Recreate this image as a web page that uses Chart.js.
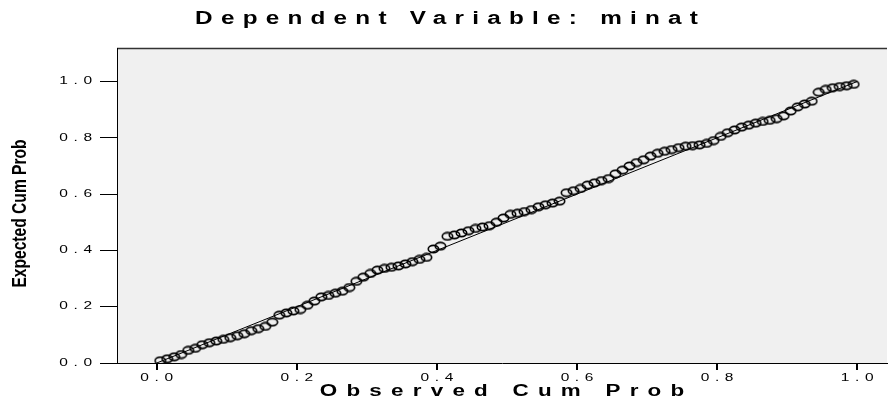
<!DOCTYPE html>
<html>
<head>
<meta charset="utf-8">
<script src="https://cdn.jsdelivr.net/npm/chart.js@4/dist/chart.umd.min.js"></script>
<style>
  html, body { margin: 0; padding: 0; background: #ffffff; }
  #c { display: block; }
</style>
</head>
<body>
<canvas id="c" width="893" height="405"></canvas>
<script>
// ---- data ----
const chartTitle = 'Dependent Variable: minat';
const xAxisTitle = 'Observed Cum Prob';
const yAxisTitle = 'Expected Cum Prob';
const xTicks = [0.0, 0.2, 0.4, 0.6, 0.8, 1.0];
const yTicks = [0.0, 0.2, 0.4, 0.6, 0.8, 1.0];
const observed = [
  0.005, 0.015, 0.025, 0.035, 0.045, 0.055, 0.065, 0.075, 0.085, 0.095,
  0.105, 0.115, 0.125, 0.135, 0.145, 0.155, 0.165, 0.175, 0.185, 0.195,
  0.205, 0.215, 0.225, 0.235, 0.245, 0.255, 0.265, 0.275, 0.285, 0.295,
  0.305, 0.315, 0.325, 0.335, 0.345, 0.355, 0.365, 0.375, 0.385, 0.395,
  0.405, 0.415, 0.425, 0.435, 0.445, 0.455, 0.465, 0.475, 0.485, 0.495,
  0.505, 0.515, 0.525, 0.535, 0.545, 0.555, 0.565, 0.575, 0.585, 0.595,
  0.605, 0.615, 0.625, 0.635, 0.645, 0.655, 0.665, 0.675, 0.685, 0.695,
  0.705, 0.715, 0.725, 0.735, 0.745, 0.755, 0.765, 0.775, 0.785, 0.795,
  0.805, 0.815, 0.825, 0.835, 0.845, 0.855, 0.865, 0.875, 0.885, 0.895,
  0.905, 0.915, 0.925, 0.935, 0.945, 0.955, 0.965, 0.975, 0.985, 0.995
];
const expected = [
  0.008, 0.015, 0.022, 0.030, 0.045, 0.052, 0.065, 0.072, 0.078, 0.084,
  0.090, 0.097, 0.104, 0.115, 0.122, 0.130, 0.145, 0.170, 0.178, 0.185,
  0.190, 0.205, 0.220, 0.235, 0.240, 0.248, 0.255, 0.268, 0.290, 0.305,
  0.318, 0.330, 0.336, 0.340, 0.345, 0.352, 0.360, 0.368, 0.375, 0.405,
  0.415, 0.450, 0.455, 0.462, 0.470, 0.478, 0.483, 0.488, 0.500, 0.515,
  0.528, 0.532, 0.538, 0.545, 0.555, 0.562, 0.568, 0.575, 0.605, 0.612,
  0.620, 0.632, 0.640, 0.648, 0.655, 0.672, 0.685, 0.700, 0.712, 0.722,
  0.735, 0.745, 0.752, 0.758, 0.765, 0.770, 0.772, 0.775, 0.780, 0.790,
  0.805, 0.818, 0.828, 0.838, 0.845, 0.852, 0.858, 0.862, 0.868, 0.878,
  0.895, 0.910, 0.920, 0.930, 0.962, 0.972, 0.978, 0.982, 0.985, 0.990
];
const refLineX = [0, 1];
const refLineY = [0, 1];

// ---- stretched-looking text (keyed by font size) ----
const TEXT_STYLE = {
  10: { sx: 1.55, ls: 3.6, dx: 0 },
  18: { sx: 1.35, ls: 6.1, dx: 0 },
  16: { sx: 1.4,  ls: 6.6, dx: 0 },
  20: { sx: 0.78, ls: 0,   dx: -8 }
};
const canvas = document.getElementById('c');
const ctx = canvas.getContext('2d');
const origFillText = ctx.fillText.bind(ctx);
ctx.fillText = function (t, x, y, maxW) {
  const mm = /(\d+(?:\.\d+)?)px/.exec(ctx.font);
  const st = mm ? TEXT_STYLE[parseFloat(mm[1])] : null;
  if (!st) {
    return maxW === undefined ? origFillText(t, x, y) : origFillText(t, x, y, maxW);
  }
  ctx.save();
  try { ctx.letterSpacing = st.ls + 'px'; } catch (e) {}
  ctx.translate(x + st.dx, y);
  ctx.scale(st.sx, 1);
  let dx = 0;
  if (ctx.textAlign === 'center') dx = st.ls / 2;
  else if (ctx.textAlign === 'right' || ctx.textAlign === 'end') dx = st.ls;
  origFillText(t, dx, 0);
  ctx.restore();
};

// ---- hollow elliptical marker ----
function makeMarker() {
  const c = document.createElement('canvas');
  c.width = 13; c.height = 10;
  const g = c.getContext('2d');
  g.strokeStyle = '#000';
  g.lineWidth = 1.6;
  g.beginPath();
  g.ellipse(6.5, 5, 5.2, 3.6, 0, 0, Math.PI * 2);
  g.stroke();
  return c;
}
const marker = makeMarker();

const bgPlugin = {
  id: 'bgPlugin',
  beforeDraw(chart) {
    const c = chart.ctx, a = chart.chartArea;
    c.save();
    c.fillStyle = '#ffffff';
    c.fillRect(0, 0, chart.width, chart.height);
    c.fillStyle = '#f0f0f0';
    c.fillRect(a.left, a.top, a.right - a.left, a.bottom - a.top);
    c.strokeStyle = '#333333';
    c.lineWidth = 1.5;
    c.beginPath();
    c.moveTo(a.left, a.top + 0.5);
    c.lineTo(a.right, a.top + 0.5);
    c.stroke();
    c.restore();
  }
};

const points = observed.map((v, i) => ({ x: v, y: expected[i] }));
const linePts = refLineX.map((v, i) => ({ x: v, y: refLineY[i] }));

new Chart(ctx, {
  type: 'scatter',
  data: {
    datasets: [
      {
        type: 'line',
        data: linePts,
        borderColor: '#000',
        borderWidth: 1,
        pointRadius: 0,
        fill: false,
        order: 2
      },
      {
        type: 'scatter',
        data: points,
        pointStyle: marker,
        pointRadius: 5,
        order: 1
      }
    ]
  },
  plugins: [bgPlugin],
  options: {
    responsive: false,
    animation: false,
    devicePixelRatio: 1,
    layout: { padding: 0 },
    plugins: {
      legend: { display: false },
      tooltip: { enabled: false },
      title: {
        display: true,
        text: chartTitle,
        color: '#000',
        font: { family: "'Liberation Sans', Arial, sans-serif", size: 18, weight: 'bold' },
        padding: { top: 8, bottom: 18.4 }
      }
    },
    scales: {
      x: {
        type: 'linear',
        min: -0.0567,
        max: 1.0425,
        afterBuildTicks(s) { s.ticks = xTicks.map(v => ({ value: v })); },
        afterFit(s) { s.height = 42; },
        grid: {
          display: true,
          drawOnChartArea: false,
          drawTicks: true,
          tickLength: 7,
          lineWidth: 2,
          color: '#000'
        },
        border: { display: true, color: '#000', width: 1 },
        ticks: {
          color: '#000',
          padding: 2,
          maxRotation: 0,
          autoSkip: false,
          font: { family: "'Liberation Sans', Arial, sans-serif", size: 10 },
          callback: v => Number(v).toFixed(1)
        },
        title: {
          display: true,
          text: xAxisTitle,
          color: '#000',
          font: { family: "'Liberation Sans', Arial, sans-serif", size: 16, weight: 'bold' },
          padding: { top: 0, bottom: 3.4 }
        }
      },
      y: {
        type: 'linear',
        min: 0,
        max: 1.119,
        afterBuildTicks(s) { s.ticks = yTicks.map(v => ({ value: v })); },
        afterFit(s) { s.width = 117; },
        grid: {
          display: true,
          drawOnChartArea: false,
          drawTicks: true,
          tickLength: 17,
          lineWidth: 1,
          color: '#000'
        },
        border: { display: true, color: '#000', width: 1 },
        ticks: {
          color: '#000',
          padding: 8,
          autoSkip: false,
          font: { family: "'Liberation Sans', Arial, sans-serif", size: 10 },
          callback: v => Number(v).toFixed(1)
        },
        title: {
          display: true,
          text: yAxisTitle,
          color: '#000',
          font: { family: "'Liberation Sans', Arial, sans-serif", size: 20, weight: 'bold' },
          padding: { top: 8, bottom: 0 }
        }
      }
    }
  }
});
</script>
</body>
</html>
